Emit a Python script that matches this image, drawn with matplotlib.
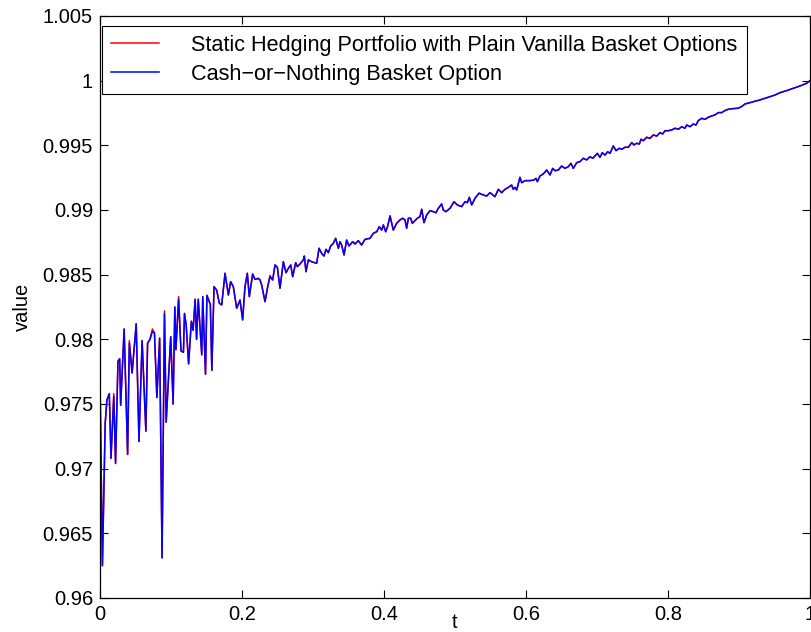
import numpy as np
import matplotlib
matplotlib.use("Agg")
import matplotlib.pyplot as plt

plt.rcParams['font.family'] = ['Liberation Sans', 'DejaVu Sans']

# time grid and cash-or-nothing option value, by segment
t_seg1 = [0.0000, 0.0034, 0.0073, 0.0097, 0.0131, 0.0155, 0.0194, 0.0219, 0.0253, 0.0277,
          0.0291, 0.0340, 0.0389, 0.0413, 0.0452, 0.0510, 0.0549, 0.0593, 0.0646, 0.0670,
          0.0704, 0.0738, 0.0767, 0.0801, 0.0840, 0.0874, 0.0908, 0.0932, 0.0996, 0.1030,
          0.1054, 0.1069, 0.1107, 0.1141, 0.1175, 0.1190, 0.1214, 0.1248, 0.1287, 0.1311,
          0.1340, 0.1360, 0.1384, 0.1433, 0.1447, 0.1486, 0.1506, 0.1554, 0.1575]
v_seg1 = [0.9769, 0.9625, 0.9735, 0.9753, 0.9758, 0.9708, 0.9756, 0.9704, 0.9783, 0.9785,
          0.9749, 0.9808, 0.9711, 0.9797, 0.9774, 0.9812, 0.9721, 0.9799, 0.9729, 0.9797,
          0.9800, 0.9806, 0.9805, 0.9755, 0.9801, 0.9631, 0.9820, 0.9736, 0.9802, 0.9750,
          0.9825, 0.9792, 0.9831, 0.9791, 0.9790, 0.9820, 0.9811, 0.9781, 0.9814, 0.9807,
          0.9831, 0.9800, 0.9831, 0.9788, 0.9833, 0.9773, 0.9834, 0.9827, 0.9776]

t_seg2 = [0.1606, 0.1643, 0.1681, 0.1714, 0.1761, 0.1808, 0.1840, 0.1878, 0.1925, 0.1972,
          0.2009, 0.2042, 0.2075, 0.2103, 0.2150, 0.2183, 0.2230, 0.2254, 0.2277, 0.2324,
          0.2362, 0.2394, 0.2432, 0.2465, 0.2498, 0.2535, 0.2582, 0.2620, 0.2653, 0.2686,
          0.2714, 0.2756, 0.2779, 0.2817, 0.2864, 0.2878, 0.2901, 0.2934, 0.2981, 0.3052,
          0.3085, 0.3122, 0.3155, 0.3183, 0.3216, 0.3249, 0.3286, 0.3319, 0.3357, 0.3380,
          0.3404, 0.3437, 0.3474, 0.3507, 0.3559, 0.3592, 0.3638, 0.3685, 0.3732, 0.3803,
          0.3850, 0.3897, 0.3934, 0.3967, 0.3991, 0.4024, 0.4052, 0.4085, 0.4131, 0.4178]
v_seg2 = [0.98407, 0.98381, 0.98279, 0.98266, 0.98511, 0.98343, 0.98446, 0.98407, 0.98240, 0.98304,
          0.98150, 0.98407, 0.98511, 0.98330, 0.98505, 0.98464, 0.98471, 0.98459, 0.98420, 0.98291,
          0.98407, 0.98484, 0.98459, 0.98575, 0.98557, 0.98395, 0.98600, 0.98515, 0.98549, 0.98575,
          0.98484, 0.98593, 0.98562, 0.98583, 0.98614, 0.98644, 0.98523, 0.98614, 0.98600, 0.98588,
          0.98704, 0.98665, 0.98644, 0.98696, 0.98670, 0.98722, 0.98742, 0.98781, 0.98704, 0.98755,
          0.98729, 0.98652, 0.98768, 0.98722, 0.98755, 0.98737, 0.98763, 0.98729, 0.98773, 0.98781,
          0.98820, 0.98832, 0.98871, 0.98845, 0.98884, 0.98832, 0.98876, 0.98954, 0.98845, 0.98897]

t_seg3 = [0.4225, 0.4263, 0.4296, 0.4319, 0.4343, 0.4376, 0.4399, 0.4437, 0.4469, 0.4507,
          0.4531, 0.4563, 0.4601, 0.4648, 0.4695, 0.4732, 0.4765, 0.4812, 0.4835, 0.4873,
          0.4930, 0.4986, 0.5033, 0.5094, 0.5141, 0.5174, 0.5202, 0.5235, 0.5282, 0.5338,
          0.5399, 0.5446, 0.5493, 0.5563, 0.5610, 0.5658, 0.5704, 0.5751, 0.5798, 0.5821,
          0.5845, 0.5869, 0.5915, 0.5939, 0.5986, 0.6056, 0.6113, 0.6141, 0.6160, 0.6197,
          0.6244, 0.6291, 0.6338, 0.6376, 0.6408, 0.6455, 0.6502, 0.6549, 0.6596, 0.6634,
          0.6666, 0.6714, 0.6761]
v_seg3 = [0.98923, 0.98936, 0.98923, 0.98859, 0.98936, 0.98936, 0.98897, 0.98918, 0.98936, 0.98949,
          0.99006, 0.98902, 0.98961, 0.98995, 0.98987, 0.98979, 0.99013, 0.99047, 0.99000, 0.98987,
          0.99013, 0.99064, 0.99039, 0.99026, 0.99064, 0.99057, 0.99098, 0.99039, 0.99091, 0.99130,
          0.99116, 0.99108, 0.99134, 0.99103, 0.99160, 0.99134, 0.99160, 0.99175, 0.99193, 0.99160,
          0.99175, 0.99155, 0.99253, 0.99211, 0.99227, 0.99227, 0.99232, 0.99245, 0.99219, 0.99263,
          0.99279, 0.99309, 0.99271, 0.99322, 0.99304, 0.99309, 0.99340, 0.99322, 0.99335, 0.99361,
          0.99322, 0.99366, 0.99374]

t_seg4 = [0.6807, 0.6855, 0.6901, 0.6939, 0.6972, 0.7005, 0.7042, 0.7075, 0.7113, 0.7150,
          0.7183, 0.7230, 0.7268, 0.7314, 0.7348, 0.7394, 0.7441, 0.7489, 0.7521, 0.7559,
          0.7596, 0.7620, 0.7652, 0.7700, 0.7746, 0.7793, 0.7841, 0.7887, 0.7925, 0.7958,
          0.8004, 0.8052, 0.8099, 0.8145, 0.8193, 0.8239, 0.8263, 0.8310, 0.8356, 0.8394,
          0.8427, 0.8475, 0.8521, 0.8568, 0.8615, 0.8662, 0.8708, 0.8756, 0.8803, 0.8849,
          0.8920, 0.8990, 0.9038, 0.9085, 0.9155, 0.9225, 0.9296, 0.9366, 0.9437, 0.9507,
          0.9577, 0.9671, 0.9765, 0.9859, 0.9953, 1.0000]
v_seg4 = [0.99400, 0.99387, 0.99412, 0.99400, 0.99418, 0.99438, 0.99407, 0.99443, 0.99425, 0.99451,
          0.99438, 0.99495, 0.99459, 0.99477, 0.99469, 0.99485, 0.99485, 0.99521, 0.99503, 0.99516,
          0.99510, 0.99547, 0.99536, 0.99562, 0.99554, 0.99580, 0.99572, 0.99598, 0.99588, 0.99613,
          0.99613, 0.99619, 0.99632, 0.99624, 0.99644, 0.99632, 0.99657, 0.99644, 0.99665, 0.99657,
          0.99691, 0.99709, 0.99701, 0.99717, 0.99727, 0.99735, 0.99753, 0.99753, 0.99769, 0.99779,
          0.99784, 0.99787, 0.99800, 0.99820, 0.99830, 0.99841, 0.99851, 0.99864, 0.99876, 0.99889,
          0.99907, 0.99923, 0.99941, 0.99959, 0.99980, 1.00000]

# hedging portfolio values that differ from the option value
hedge_diff_t = [0.0000, 0.0194, 0.0413, 0.0738, 0.0908, 0.1107, 0.2394]
hedge_diff_v = [0.9771, 0.9758, 0.9799, 0.9808, 0.9822, 0.9833, 0.98494]

labels = ['Static Hedging Portfolio with Plain Vanilla Basket Options',
          'Cash\u2212or\u2212Nothing Basket Option']
x_ticks = [0, 0.2, 0.4, 0.6, 0.8, 1]
x_tick_labels = ['0', '0.2', '0.4', '0.6', '0.8', '1']
y_ticks = [0.96, 0.965, 0.97, 0.975, 0.98, 0.985, 0.99, 0.995, 1.0, 1.005]
y_tick_labels = ['0.96', '0.965', '0.97', '0.975', '0.98', '0.985', '0.99', '0.995', '1', '1.005']

t = np.array(t_seg1 + t_seg2 + t_seg3 + t_seg4)
option = np.array(v_seg1 + v_seg2 + v_seg3 + v_seg4)
assert len(t) == len(option)
hedge = option.copy()
for tt, vv in zip(hedge_diff_t, hedge_diff_v):
    hedge[np.argmin(np.abs(t - tt))] = vv

fig = plt.figure(figsize=(8.12, 6.32), dpi=100)
ax = fig.add_axes([100 / 812, 34 / 632, 710 / 812, 582 / 632])

ax.plot(t, hedge, color=(1, 0, 0), lw=1.1, label=labels[0])
ax.plot(t, option, color=(0, 0, 1), lw=1.1, label=labels[1])

ax.set_xlim(0, 1)
ax.set_ylim(0.96, 1.005)
ax.set_xticks(x_ticks)
ax.set_xticklabels(x_tick_labels)
ax.set_yticks(y_ticks)
ax.set_yticklabels(y_tick_labels)
ax.tick_params(direction='in', length=6, width=0.8, top=True, right=True,
               labelsize=14.5, pad=5, colors='black')
for s in ax.spines.values():
    s.set_linewidth(0.9)

ax.set_xlabel('t', fontsize=14.5, labelpad=-8)
ax.set_ylabel('value', fontsize=14.5, labelpad=8)

leg = ax.legend(loc='upper left', bbox_to_anchor=(0.003, 0.983), borderaxespad=0,
                fontsize=15.6, fancybox=False, framealpha=1, edgecolor='black',
                handlelength=2.2, handletextpad=1.5, labelspacing=0.36, borderpad=0.42)
leg.get_frame().set_linewidth(0.8)

fig.savefig('out.png', dpi=100)
